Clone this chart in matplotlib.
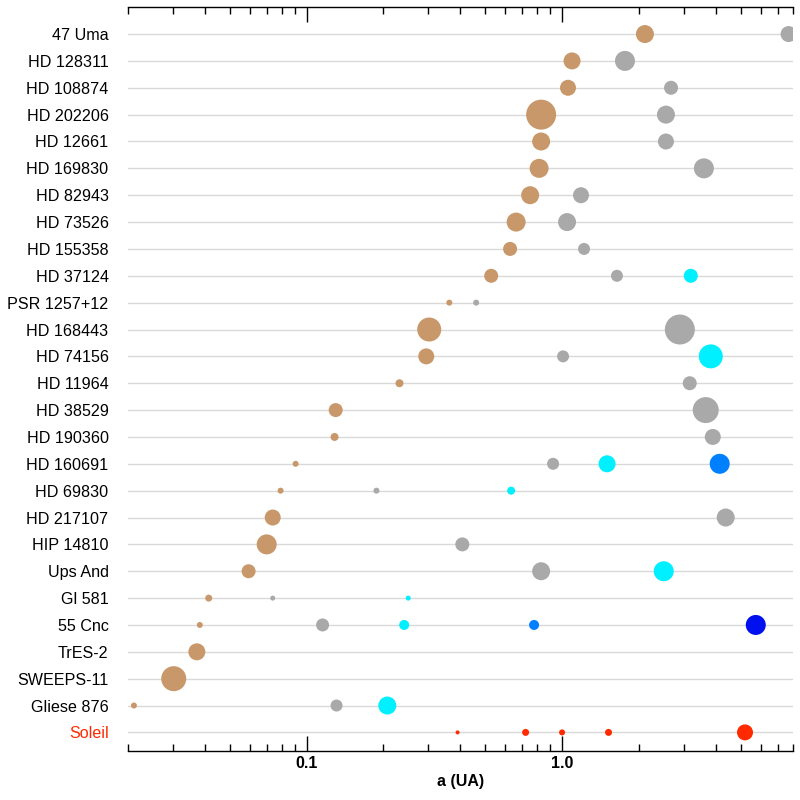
import matplotlib
matplotlib.use("Agg")
import matplotlib.pyplot as plt
from matplotlib.ticker import FixedLocator, NullFormatter, LogLocator

plt.rcParams['font.family'] = ['Liberation Sans', 'DejaVu Sans']

# systemes du haut vers le bas
systemes = ["47 Uma", "HD 128311", "HD 108874", "HD 202206", "HD 12661",
            "HD 169830", "HD 82943", "HD 73526", "HD 155358", "HD 37124",
            "PSR 1257+12", "HD 168443", "HD 74156", "HD 11964", "HD 38529",
            "HD 190360", "HD 160691", "HD 69830", "HD 217107", "HIP 14810",
            "Ups And", "Gl 581", "55 Cnc", "TrES-2", "SWEEPS-11",
            "Gliese 876", "Soleil"]

# demi-grand axe (UA) de chaque planete
demi_axes = [
    [2.11, 7.70],
    [1.094, 1.763],
    [1.055, 2.67],
    [0.828, 2.55],
    [0.828, 2.55],
    [0.813, 3.59],
    [0.750, 1.186],
    [0.661, 1.046],
    [0.626, 1.219],
    [0.528, 1.64, 3.19],
    [0.362, 0.461],
    [0.302, 2.89],
    [0.294, 1.009, 3.82],
    [0.231, 3.16],
    [0.130, 3.65],
    [0.1287, 3.89],
    [0.0906, 0.922, 1.50, 4.14],
    [0.0791, 0.1877, 0.632],
    [0.0737, 4.37],
    [0.0698, 0.407],
    [0.0593, 0.828, 2.50],
    [0.0414, 0.0737, 0.250],
    [0.0382, 0.1155, 0.241, 0.777, 5.73],
    [0.0372],
    [0.0302],
    [0.0211, 0.131, 0.207],
    [0.39, 0.72, 1.0, 1.52, 5.2],
]

# diametre apparent des points (pixels)
diametres = [
    [18, 16],
    [17, 20],
    [16, 14],
    [30, 18],
    [18, 16],
    [19, 20],
    [18, 16],
    [19, 18],
    [14, 12],
    [14, 12, 14],
    [6, 6],
    [24, 30],
    [16, 12, 24],
    [8, 14],
    [14, 26],
    [8, 16],
    [6, 12, 17, 20],
    [6, 6, 8],
    [16, 18],
    [20, 14],
    [14, 18, 20],
    [7, 5, 5],
    [6, 13, 10, 10, 20],
    [17],
    [25],
    [6, 12, 18],
    [4, 7, 6, 7, 16],
]

couleurs = ["#c9986a", "#a9a9a9", "#00f0ff", "#0080ff", "#0010ee"]
rouge = "#ff2a00"

fig = plt.figure(figsize=(8, 8), dpi=100)
ax = fig.add_axes([0.16, 0.061, 0.831, 0.930])

n = len(systemes)
for i, nom in enumerate(systemes):
    y = n - 1 - i
    ax.axhline(y, color="#d9d9d9", lw=1.0, zorder=1)
    for j, (a, d) in enumerate(zip(demi_axes[i], diametres[i])):
        c = rouge if nom == "Soleil" else couleurs[j]
        ax.scatter(a, y, s=(d * 0.72) ** 2, color=c, edgecolors="none", zorder=3)

ax.set_xscale("log")
ax.set_xlim(0.02, 8.0)
ax.set_ylim(-0.7, n)

ax.set_yticks(range(n))
ax.set_yticklabels(systemes[::-1], fontsize=11.6)
for lab in ax.get_yticklabels():
    if lab.get_text() == "Soleil":
        lab.set_color(rouge)
ax.tick_params(axis="y", length=0, pad=14)

ax.xaxis.set_major_locator(FixedLocator([0.1, 1.0]))
ax.set_xticklabels(["0.1", "1.0"], fontsize=11.5, fontweight="bold")
ax.xaxis.set_minor_locator(LogLocator(base=10, subs=range(2, 10), numticks=20))
ax.xaxis.set_minor_formatter(NullFormatter())
ax.tick_params(axis="x", which="major", direction="in", length=11, width=1, top=True)
ax.tick_params(axis="x", which="minor", direction="in", length=5, width=1, top=True)

ax.spines["left"].set_visible(False)
ax.spines["right"].set_visible(False)
ax.spines["top"].set_linewidth(1)
ax.spines["bottom"].set_linewidth(1)

ax.set_xlabel("a (UA)", fontsize=11.5, fontweight="bold", labelpad=2)

fig.savefig("out.png", dpi=100)
